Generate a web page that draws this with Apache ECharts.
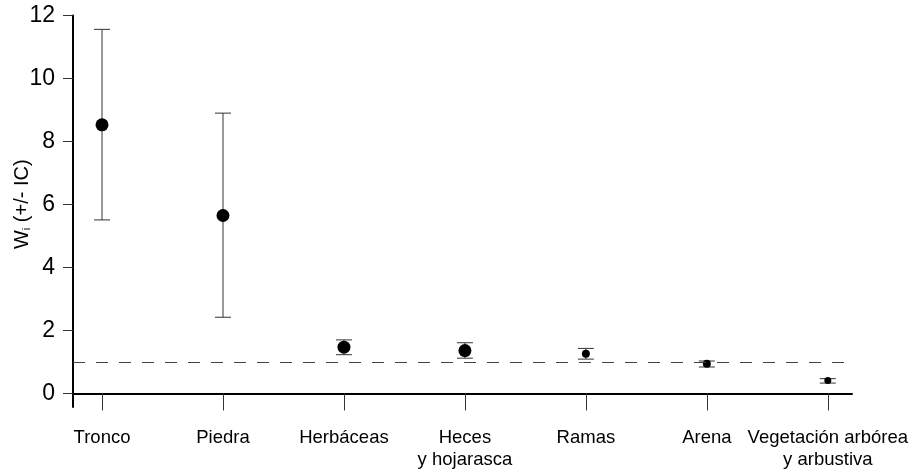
<!DOCTYPE html>
<html>
<head>
<meta charset="utf-8">
<script src="https://cdn.jsdelivr.net/npm/echarts@6/dist/echarts.min.js"></script>
<style>
  html, body { margin: 0; padding: 0; background: #fff; }
  #chart { width: 914px; height: 475px; }
</style>
</head>
<body>
<div id="chart"></div>
<script>
// habitat categories on the x axis
var categories = ['Tronco', 'Piedra', 'Herbáceas', 'Heces\ny hojarasca', 'Ramas', 'Arena', 'Vegetación arbórea\ny arbustiva']
// Wi and its confidence interval
var wMean = [8.53, 5.65, 1.47, 1.36, 1.26, 0.94, 0.41]
var ciLow = [5.51, 2.42, 1.23, 1.12, 1.09, 0.84, 0.33]
var ciHigh = [11.56, 8.9, 1.70, 1.61, 1.43, 1.03, 0.47]
var yTicks = [0, 2, 4, 6, 8, 10, 12]
var refLine = 1
var pointSize = [13, 13, 13, 13, 8, 8, 7]

var xPos = categories.map(function (c, i) { return i + 1 })
var font = 'Liberation Sans, Arial, sans-serif'

var myChart = echarts.init(document.getElementById('chart'))

myChart.setOption({
    animation: false,
    grid: { left: 73, right: 62, top: 15.5, bottom: 68, containLabel: false, outerBoundsMode: 'none' },
    xAxis: {
        type: 'value',
        min: 0.76,
        max: 7.2,
        axisLine: { show: true, lineStyle: { color: '#000', width: 2 } },
        axisTick: { show: true, customValues: xPos, length: 17, lineStyle: { color: '#333', width: 1 } },
        axisLabel: {
            customValues: xPos,
            formatter: function (v) { return categories[Math.round(v) - 1] },
            margin: 20,
            fontSize: 18.5,
            lineHeight: 22,
            color: '#000',
            fontFamily: font
        },
        splitLine: { show: false }
    },
    yAxis: {
        type: 'value',
        min: -0.43,
        max: 12,
        axisLine: { show: true, lineStyle: { color: '#000', width: 2 } },
        axisTick: { show: true, customValues: yTicks, length: 10, lineStyle: { color: '#333', width: 1 } },
        axisLabel: {
            customValues: yTicks,
            margin: 18,
            fontSize: 23,
            color: '#000',
            fontFamily: font
        },
        splitLine: { show: false },
        name: '{w|W}{i|i}{w| (+/- IC)}',
        nameLocation: 'middle',
        nameGap: 41,
        nameRotate: 90,
        nameMoveOverlap: false,
        nameTextStyle: {
            padding: [0, 0, 0, 14],
            rich: {
                w: { fontSize: 20, color: '#000', fontFamily: font },
                i: { fontSize: 11, color: '#000', fontFamily: font, padding: [9, 0, 0, 0] }
            }
        }
    },
    series: [
        {
            // error bars (CI)
            type: 'custom',
            data: xPos.map(function (x, i) { return [x, ciLow[i], ciHigh[i]] }),
            renderItem: function (params, api) {
                var lo = api.coord([api.value(0), api.value(1)])
                var hi = api.coord([api.value(0), api.value(2)])
                var w = 8
                var st = { stroke: '#333', lineWidth: 1 }
                return {
                    type: 'group',
                    children: [
                        { type: 'line', shape: { x1: lo[0], y1: lo[1], x2: hi[0], y2: hi[1] }, style: st },
                        { type: 'line', shape: { x1: lo[0] - w, y1: lo[1], x2: lo[0] + w, y2: lo[1] }, style: st },
                        { type: 'line', shape: { x1: hi[0] - w, y1: hi[1], x2: hi[0] + w, y2: hi[1] }, style: st }
                    ]
                }
            },
            markLine: {
                silent: true,
                symbol: 'none',
                label: { show: false },
                lineStyle: { color: '#444', width: 1, type: [12, 11] },
                data: [{ yAxis: refLine }]
            },
            z: 2
        },
        {
            type: 'scatter',
            data: xPos.map(function (x, i) { return [x, wMean[i]] }),
            symbol: 'circle',
            symbolSize: function (val, params) { return pointSize[params.dataIndex] },
            itemStyle: { color: '#000', opacity: 1 },
            z: 3
        }
    ]
})
</script>
</body>
</html>
